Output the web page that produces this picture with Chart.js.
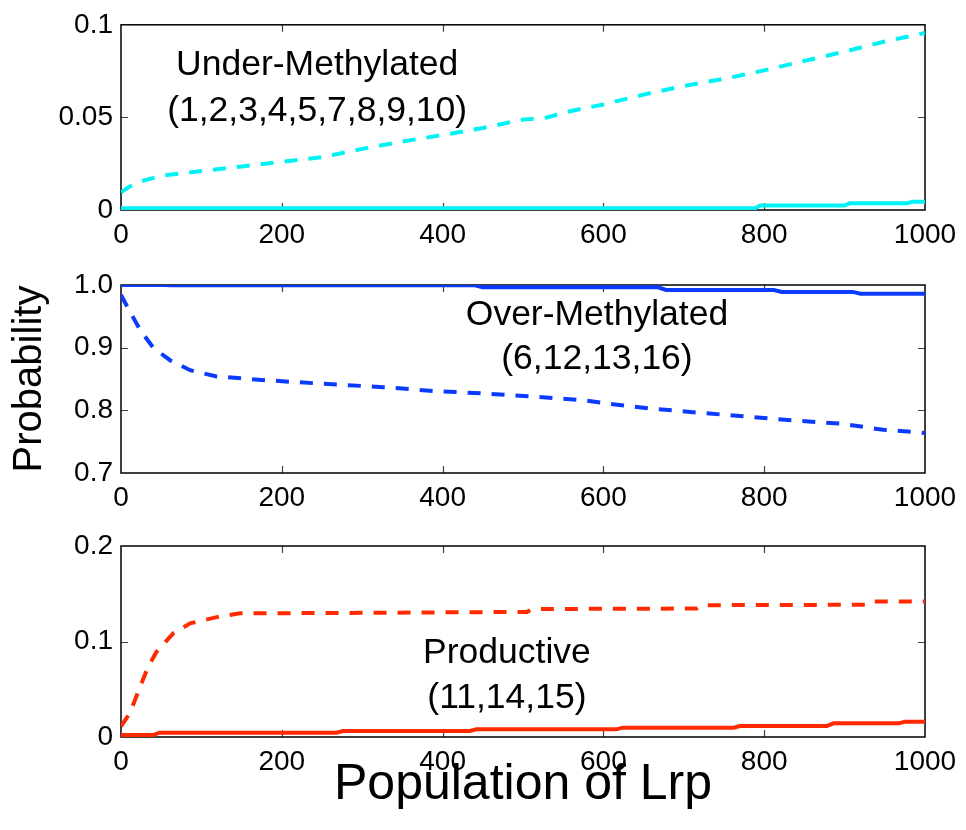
<!DOCTYPE html>
<html>
<head>
<meta charset="utf-8">
<title>Probability vs population of Lrp</title>
<script src="https://cdn.jsdelivr.net/npm/chart.js@4.4.1/dist/chart.umd.min.js"></script>
<style>
  html, body { margin: 0; padding: 0; background: #fff; }
  #wrap { position: relative; width: 966px; height: 830px; }
  canvas { position: absolute; left: 0; }
</style>
</head>
<body>
<div id="wrap">
  <canvas id="under" width="966" height="260" style="top:0px"></canvas>
  <canvas id="over" width="966" height="260" style="top:260px"></canvas>
  <canvas id="prod" width="966" height="310" style="top:520px"></canvas>
</div>
<script>
// ---- shared x axis: population of Lrp ----
const popTicks = [0, 200, 400, 600, 800, 1000];
const popTitle = 'Population of Lrp';
const probTitle = 'Probability';

// ---- under-methylated states ----
const underLabel = ['Under-Methylated', '(1,2,3,4,5,7,8,9,10)'];
const underTickValues = [0, 0.05, 0.1];
const underTickLabels = ['0', '0.05', '0.1'];
const underDashX = [0, 10, 25, 50, 100, 150, 200, 250, 300, 350, 400, 450, 500, 530, 560, 600, 650, 700, 750, 800, 850, 900, 950, 1000];
const underDashY = [0.0095, 0.0125, 0.0155, 0.0185, 0.021, 0.0235, 0.026, 0.0285, 0.033, 0.037, 0.0405, 0.0443, 0.0488, 0.050, 0.0535, 0.057, 0.0623, 0.067, 0.0708, 0.0754, 0.0805, 0.0855, 0.091, 0.0956];
const underSolidX = [0, 789, 795, 900, 906, 978, 984, 1000];
const underSolidY = [0.001, 0.001, 0.0024, 0.0024, 0.0036, 0.0036, 0.0045, 0.0045];

// ---- over-methylated states ----
const overLabel = ['Over-Methylated', '(6,12,13,16)'];
const overTickValues = [0.7, 0.8, 0.9, 1.0];
const overTickLabels = ['0.7', '0.8', '0.9', '1.0'];
const overDashX = [0, 10, 24, 40, 61, 86, 119, 150, 181, 244, 326, 388, 450, 513, 575, 617, 658, 720, 770, 845, 894, 948, 1000];
const overDashY = [0.984, 0.960, 0.928, 0.900, 0.880, 0.864, 0.854, 0.851, 0.848, 0.843, 0.837, 0.831, 0.827, 0.822, 0.816, 0.809, 0.803, 0.796, 0.791, 0.783, 0.779, 0.769, 0.764];
const overSolidX = [0, 55, 62, 440, 450, 668, 678, 812, 822, 910, 920, 1000];
const overSolidY = [1.0, 1.0, 0.9995, 0.9995, 0.9963, 0.9963, 0.992, 0.992, 0.989, 0.989, 0.986, 0.986];

// ---- productive states ----
const prodLabel = ['Productive', '(11,14,15)'];
const prodTickValues = [0, 0.1, 0.2];
const prodTickLabels = ['0', '0.1', '0.2'];
const prodDashX = [0, 11, 24, 34, 44, 65, 86, 119, 148, 300, 505, 512, 716, 722, 928, 934, 1000];
const prodDashY = [0.011, 0.025, 0.053, 0.074, 0.089, 0.1085, 0.119, 0.1255, 0.1295, 0.130, 0.131, 0.134, 0.1345, 0.138, 0.1385, 0.142, 0.142];
const prodSolidX = [0, 40, 48, 268, 276, 434, 442, 616, 624, 762, 770, 878, 886, 967, 975, 1000];
const prodSolidY = [0.002, 0.002, 0.0045, 0.0045, 0.0063, 0.0063, 0.008, 0.008, 0.0098, 0.0098, 0.0115, 0.0115, 0.0143, 0.0143, 0.016, 0.016];

const FONT = "'Liberation Sans', Arial, Helvetica, sans-serif";
const CYAN = '#00F2F4';
const BLUE = '#0A3BFF';
const RED = '#FF2A00';

function pts(xs, ys) { return xs.map((x, i) => ({ x: x, y: ys[i] })); }

// axes box with inward tick marks on all four sides
const framePlugin = {
  id: 'frame',
  beforeDatasetsDraw(chart) {
    const { ctx, chartArea: a, scales: { x, y } } = chart;
    const len = 7;
    ctx.save();
    ctx.strokeStyle = '#404040';
    ctx.lineWidth = 1.2;
    ctx.beginPath();
    x.ticks.forEach(t => {
      const px = Math.round(x.getPixelForValue(t.value)) + 0.5;
      if (px <= a.left + 2 || px >= a.right - 2) return;
      ctx.moveTo(px, a.bottom); ctx.lineTo(px, a.bottom - len);
      ctx.moveTo(px, a.top); ctx.lineTo(px, a.top + len);
    });
    y.ticks.forEach(t => {
      const py = Math.round(y.getPixelForValue(t.value)) + 0.5;
      if (py <= a.top + 2 || py >= a.bottom - 2) return;
      ctx.moveTo(a.left, py); ctx.lineTo(a.left + len, py);
      ctx.moveTo(a.right, py); ctx.lineTo(a.right - len, py);
    });
    ctx.stroke();
    ctx.strokeStyle = '#000';
    ctx.lineWidth = 1.5;
    ctx.strokeRect(a.left, a.top, a.right - a.left, a.bottom - a.top);
    ctx.restore();
  }
};

// two-line text label placed in data coordinates
const notePlugin = {
  id: 'note',
  afterDatasetsDraw(chart, args, opts) {
    if (!opts || !opts.lines) return;
    const { ctx, scales: { x, y } } = chart;
    ctx.save();
    ctx.font = '35.5px ' + FONT;
    ctx.fillStyle = '#000';
    ctx.textAlign = 'center';
    ctx.textBaseline = 'middle';
    opts.lines.forEach((s, i) => {
      ctx.fillText(s, x.getPixelForValue(opts.x), y.getPixelForValue(opts.y[i]));
    });
    ctx.restore();
  }
};

function makePanel(id, p) {
  const xTitle = p.xTitle
    ? { display: true, text: p.xTitle, color: '#000', font: { family: FONT, size: 50, lineHeight: 1 }, padding: { top: 0, bottom: p.xTitlePad } }
    : { display: false };
  const yTitle = p.yTitle
    ? { display: true, text: p.yTitle, color: '#000', font: { family: FONT, size: 40, lineHeight: 1 }, padding: { top: p.yTitlePad, bottom: 0 } }
    : { display: false };
  return new Chart(document.getElementById(id), {
    type: 'line',
    data: {
      datasets: [
        { data: pts(p.dashX, p.dashY), borderColor: p.color, borderWidth: 4, borderDash: [13, 11], pointRadius: 0, tension: 0, fill: false },
        { data: pts(p.solidX, p.solidY), borderColor: p.color, borderWidth: 4, pointRadius: 0, tension: 0, fill: false }
      ]
    },
    options: {
      responsive: false,
      animation: false,
      events: [],
      layout: { autoPadding: false, padding: { top: p.top, right: 41, left: 0, bottom: 0 } },
      plugins: {
        legend: { display: false },
        tooltip: { enabled: false },
        note: { lines: p.label, x: p.noteX, y: p.noteY }
      },
      scales: {
        x: {
          type: 'linear', min: 0, max: 1000,
          afterBuildTicks: s => { s.ticks = popTicks.map(v => ({ value: v })); },
          afterFit: s => { s.height = p.xHeight; },
          grid: { display: false, drawTicks: false },
          border: { display: false },
          ticks: { padding: 8, maxRotation: 0, autoSkip: false, color: '#000', font: { family: FONT, size: 28 }, callback: v => String(v) },
          title: xTitle
        },
        y: {
          type: 'linear', min: p.tickValues[0], max: p.tickValues[p.tickValues.length - 1],
          afterBuildTicks: s => { s.ticks = p.tickValues.map(v => ({ value: v })); },
          afterFit: s => { s.width = 121; },
          grid: { display: false, drawTicks: false },
          border: { display: false },
          ticks: {
            padding: 8, autoSkip: false, color: '#000', font: { family: FONT, size: 28 },
            callback: v => {
              const i = p.tickValues.findIndex(t => Math.abs(t - v) < 1e-9);
              return i >= 0 ? p.tickLabels[i] : '';
            }
          },
          title: yTitle
        }
      }
    },
    plugins: [framePlugin, notePlugin]
  });
}

makePanel('under', {
  top: 20, xHeight: 50, color: CYAN,
  dashX: underDashX, dashY: underDashY, solidX: underSolidX, solidY: underSolidY,
  tickValues: underTickValues, tickLabels: underTickLabels,
  label: underLabel, noteX: 244, noteY: [0.0780, 0.0536]
});

makePanel('over', {
  top: 25, xHeight: 47, color: BLUE,
  dashX: overDashX, dashY: overDashY, solidX: overSolidX, solidY: overSolidY,
  tickValues: overTickValues, tickLabels: overTickLabels,
  label: overLabel, noteX: 592, noteY: [0.952, 0.881],
  yTitle: probTitle, yTitlePad: 10
});

makePanel('prod', {
  top: 26, xHeight: 93, color: RED,
  dashX: prodDashX, dashY: prodDashY, solidX: prodSolidX, solidY: prodSolidY,
  tickValues: prodTickValues, tickLabels: prodTickLabels,
  label: prodLabel, noteX: 480, noteY: [0.0875, 0.0404],
  xTitle: popTitle, xTitlePad: 20
});
</script>
</body>
</html>
